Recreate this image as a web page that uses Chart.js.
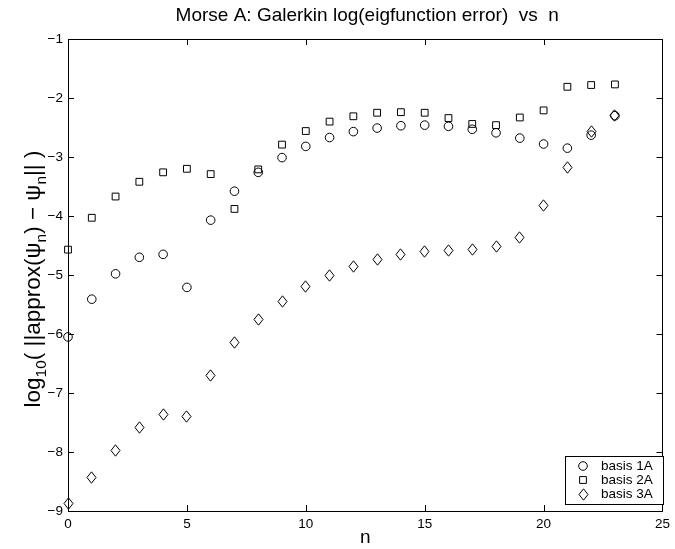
<!DOCTYPE html>
<html>
<head>
<meta charset="utf-8">
<script src="https://cdn.jsdelivr.net/npm/chart.js@4/dist/chart.umd.min.js"></script>
<style>
html,body{margin:0;padding:0;background:#fff;}
#wrap{width:675px;height:549px;position:relative;}
</style>
</head>
<body>
<div id="wrap"><canvas id="c" width="675" height="549"></canvas></div>
<script>
// ---- data ----
const nValues = [0,1,2,3,4,5,6,7,8,9,10,11,12,13,14,15,16,17,18,19,20,21,22,23];
const basis1A = [-6.05,-5.41,-4.98,-4.70,-4.65,-5.21,-4.07,-3.58,-3.26,-3.01,-2.82,-2.67,-2.57,-2.51,-2.47,-2.46,-2.48,-2.53,-2.59,-2.68,-2.78,-2.85,-2.63,-2.30];
const basis2A = [-4.57,-4.03,-3.67,-3.42,-3.26,-3.20,-3.29,-3.88,-3.21,-2.79,-2.56,-2.40,-2.31,-2.25,-2.24,-2.25,-2.34,-2.44,-2.46,-2.33,-2.21,-1.81,-1.78,-1.77];
const basis3A = [-8.87,-8.43,-7.97,-7.59,-7.37,-7.39,-6.71,-6.15,-5.75,-5.45,-5.20,-5.01,-4.85,-4.74,-4.66,-4.61,-4.58,-4.56,-4.51,-4.37,-3.82,-3.18,-2.57,-2.29];
const seriesLabels = ['basis 1A','basis 2A','basis 3A'];
const xTicks = [0,5,10,15,20,25];
const yTicks = [-1,-2,-3,-4,-5,-6,-7,-8,-9];
const titleText = 'Morse A: Galerkin log(eigfunction error)  vs  n';
const xTitle = 'n';
const yTitleParts = [['log',0],['10',1],['( ||approx(ψ',0],['n',1],[') − ψ',0],['n',1],['|| )',0]];

const FONT = "'Liberation Sans', Arial, Helvetica, sans-serif";
Chart.defaults.font.family = FONT;
Chart.defaults.color = '#000';

// diamond marker (taller than wide)
const diamond = (() => {
  const c = document.createElement('canvas');
  c.width = 11; c.height = 13;
  const g = c.getContext('2d');
  g.strokeStyle = '#000'; g.lineWidth = 1;
  g.beginPath();
  g.moveTo(5.5, 0.8); g.lineTo(10, 6.5); g.lineTo(5.5, 12.2); g.lineTo(1, 6.5); g.closePath();
  g.stroke();
  return c;
})();

const pts = arr => nValues.map((n, i) => ({x: n, y: arr[i]}));
const fmt = v => v < 0 ? '\u2212' + Math.abs(v) : String(v);

const crispPlugin = {
  id: 'crisp',
  beforeDatasetsDraw(chart) { chart.ctx.save(); chart.ctx.imageSmoothingEnabled = false; },
  afterDatasetsDraw(chart) { chart.ctx.restore(); }
};

const framePlugin = {
  id: 'frame',
  afterDraw(chart) {
    const {ctx, chartArea: a, scales} = chart;
    ctx.save();
    ctx.strokeStyle = '#000';
    ctx.lineWidth = 1;
    // box
    ctx.strokeRect(Math.round(a.left) + 0.5, Math.round(a.top) + 0.5, Math.round(a.right - a.left), Math.round(a.bottom - a.top));
    // inward ticks
    const tl = 6;
    ctx.beginPath();
    xTicks.forEach(v => {
      const px = Math.round(scales.x.getPixelForValue(v)) + 0.5;
      ctx.moveTo(px, a.bottom); ctx.lineTo(px, a.bottom - tl);
      ctx.moveTo(px, a.top); ctx.lineTo(px, a.top + tl);
    });
    yTicks.forEach(v => {
      const py = Math.round(scales.y.getPixelForValue(v)) + 0.5;
      ctx.moveTo(a.left, py); ctx.lineTo(a.left + tl, py);
      ctx.moveTo(a.right, py); ctx.lineTo(a.right - tl, py);
    });
    ctx.stroke();

    // title
    ctx.fillStyle = '#000';
    ctx.font = '19px ' + FONT;
    ctx.textAlign = 'center';
    ctx.textBaseline = 'alphabetic';
    ctx.fillText(titleText, (a.left + a.right) / 2 + 2, 21);

    // y axis title with subscripts
    const fs = 22.5, sfs = 15.5;
    const parts = yTitleParts.map(([t, sub]) => {
      ctx.font = (sub ? sfs : fs) + 'px ' + FONT;
      return {t, sub, w: ctx.measureText(t).width};
    });
    const total = parts.reduce((s, p) => s + p.w, 0);
    ctx.save();
    ctx.translate(40, (a.top + a.bottom) / 2 + 4);
    ctx.rotate(-Math.PI / 2);
    ctx.textAlign = 'left';
    ctx.textBaseline = 'alphabetic';
    let cx = -total / 2;
    parts.forEach(p => {
      ctx.font = (p.sub ? sfs : fs) + 'px ' + FONT;
      ctx.fillText(p.t, cx, p.sub ? 6 : 0);
      cx += p.w;
    });
    ctx.restore();

    // legend box
    const lx = 565, ly = 456, lw = 98, lh = 48;
    ctx.fillStyle = '#fff';
    ctx.fillRect(lx, ly, lw, lh);
    ctx.strokeRect(lx + 0.5, ly + 0.5, lw, lh);
    ctx.font = '13.5px ' + FONT;
    ctx.textAlign = 'left';
    ctx.textBaseline = 'middle';
    ctx.imageSmoothingEnabled = false;
    chart.data.datasets.forEach((ds, i) => {
      const ry = ly + 10 + i * 14;
      ctx.strokeStyle = '#000';
      ctx.fillStyle = 'rgba(0,0,0,0)';
      Chart.helpers.drawPoint(ctx, {pointStyle: ds.pointStyle, radius: ds.pointRadius, borderWidth: 1, rotation: 0}, lx + 18, ry);
      ctx.fillStyle = '#000';
      ctx.fillText(ds.label, lx + 36, ry);
    });
    ctx.restore();
  }
};

new Chart(document.getElementById('c'), {
  type: 'scatter',
  data: {
    datasets: [
      {label: seriesLabels[0], data: pts(basis1A), pointStyle: 'circle', pointRadius: 4.3, borderColor: '#000', backgroundColor: 'rgba(0,0,0,0)', pointBorderWidth: 1, clip: false},
      {label: seriesLabels[1], data: pts(basis2A), pointStyle: 'rect', pointRadius: 4.8, borderColor: '#000', backgroundColor: 'rgba(0,0,0,0)', pointBorderWidth: 1, clip: false},
      {label: seriesLabels[2], data: pts(basis3A), pointStyle: diamond, pointRadius: 5, borderColor: '#000', backgroundColor: 'rgba(0,0,0,0)', pointBorderWidth: 1, clip: false}
    ]
  },
  options: {
    responsive: false,
    animation: false,
    events: [],
    layout: {padding: {top: 39, left: 0, right: 7, bottom: 0}},
    plugins: {legend: {display: false}, title: {display: false}, tooltip: {enabled: false}},
    scales: {
      x: {
        type: 'linear', min: 0, max: 25,
        afterBuildTicks: s => { s.ticks = xTicks.map(v => ({value: v})); },
        afterFit: s => { s.height = 38; },
        grid: {display: false, drawTicks: false},
        border: {display: false},
        ticks: {font: {size: 13.5}, color: '#000', padding: 5, callback: fmt, maxRotation: 0},
        title: {display: true, text: xTitle, font: {size: 19}, color: '#000', padding: {top: 0, bottom: 0}}
      },
      y: {
        type: 'linear', min: -9, max: -1,
        afterBuildTicks: s => { s.ticks = yTicks.map(v => ({value: v})); },
        afterFit: s => { s.width = 68; },
        grid: {display: false, drawTicks: false},
        border: {display: false},
        ticks: {font: {size: 13.5}, color: '#000', padding: 5, callback: fmt}
      }
    }
  },
  plugins: [crispPlugin, framePlugin]
});
</script>
</body>
</html>
